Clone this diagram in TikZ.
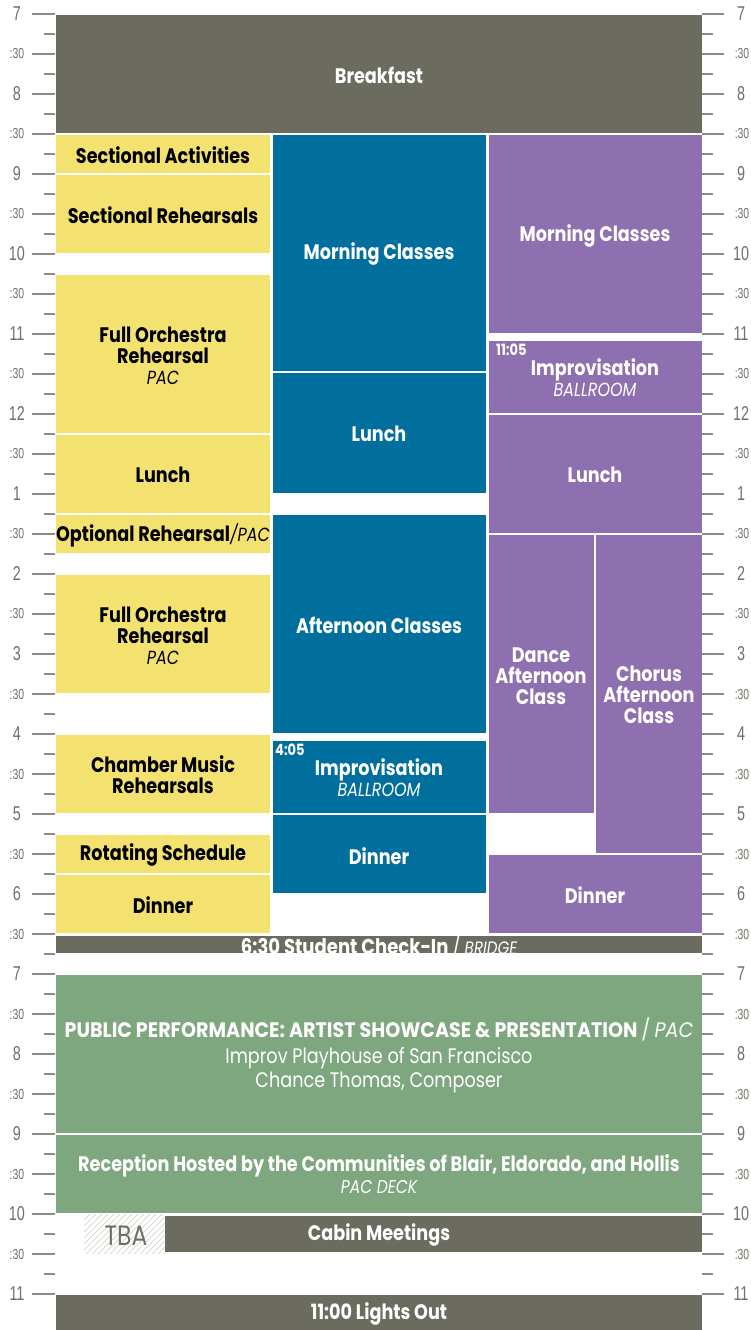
\documentclass[tikz,border=0pt]{standalone}
\usepackage{fontspec}
\setmainfont{Poppins}[FakeStretch=0.84]
\newfontfamily\wideboldfont{Poppins}[FakeStretch=0.91]
\newfontfamily\axfont{Liberation Sans}[FakeStretch=0.72]
\definecolor{cgrey}{RGB}{108,107,95}
\definecolor{cyel}{RGB}{243,225,112}
\definecolor{cblue}{RGB}{0,111,158}
\definecolor{cpurp}{RGB}{142,111,176}
\definecolor{cgreen}{RGB}{127,167,127}
\definecolor{ctick}{RGB}{140,140,130}
\definecolor{caxis}{RGB}{112,112,102}
\definecolor{chatch}{RGB}{212,212,206}
\newcommand\blockrect[5]{\fill[#5] (#1,#2) rectangle (#3,#4);}
\newcommand\subtxt[1]{{\mdseries\itshape\fontsize{19}{19}\selectfont #1}}
\newcommand\roomtxt[1]{{\mdseries\itshape\fontsize{19}{19}\selectfont #1}}
\begin{document}
\begin{tikzpicture}[x=1pt,y=-1pt,
  ttl/.style={font=\bfseries\fontsize{21}{21}\selectfont, align=center, inner sep=0pt},
  dk/.style={ttl, text=black},
  lt/.style={ttl, text=white},
  small/.style={font=\bfseries\fontsize{15.5}{16}\selectfont, text=white, inner sep=0pt, anchor=north west},
  tickl/.style={ctick, line width=1.4pt},
  axh/.style={font=\axfont\fontsize{20}{20}\selectfont, text=caxis, inner sep=0pt},
  axm/.style={font=\axfont\fontsize{14.5}{15}\selectfont, text=caxis, inner sep=0pt}]
\useasboundingbox (0,0) rectangle (751,1330);
\fill[white] (0,0) rectangle (751,1330);
% ---- ticks ----
\foreach \i in {0,...,64}{
  \ifodd\i
    \draw[tickl] (44,14+20*\i) -- (55,14+20*\i);
    \draw[tickl] (702,14+20*\i) -- (713,14+20*\i);
  \else
    \draw[tickl] (32,14+20*\i) -- (55,14+20*\i);
    \draw[tickl] (702,14+20*\i) -- (724,14+20*\i);
  \fi
}
\foreach \lab [count=\k from 0] in {7,8,9,10,11,12,1,2,3,4,5,6,7,8,9,10,11}{
  \node[axh] (hl\k) at (17,14+80*\k) {\lab};
  \node[axh] (hr\k) at (741,14+80*\k) {\lab};
}
\foreach \k in {0,...,15}{
  \node[axm] (ml\k) at (17,54+80*\k) {:30};
  \node[axm] (mr\k) at (742,54+80*\k) {:30};
}
% ---- blocks ----
\blockrect{56}{15}{702}{133}{cgrey}
% left column
\blockrect{56}{135}{270}{173}{cyel}
\blockrect{56}{175}{270}{253}{cyel}
\blockrect{56}{275}{270}{433}{cyel}
\blockrect{56}{435}{270}{513}{cyel}
\blockrect{56}{515}{270}{553}{cyel}
\blockrect{56}{575}{270}{693}{cyel}
\blockrect{56}{735}{270}{813}{cyel}
\blockrect{56}{835}{270}{873}{cyel}
\blockrect{56}{875}{270}{933}{cyel}
% middle column
\blockrect{273}{135}{486}{371}{cblue}
\blockrect{273}{373}{486}{493}{cblue}
\blockrect{273}{515}{486}{733}{cblue}
\blockrect{273}{741}{486}{813}{cblue}
\blockrect{273}{815}{486}{893}{cblue}
% right column
\blockrect{489}{135}{702}{333}{cpurp}
\blockrect{489}{341}{702}{413}{cpurp}
\blockrect{489}{415}{702}{533}{cpurp}
\blockrect{489}{535}{594}{813}{cpurp}
\blockrect{596}{535}{702}{853}{cpurp}
\blockrect{489}{855}{702}{933}{cpurp}
% evening
\blockrect{56}{936}{702}{953}{cgrey}
\blockrect{56}{975}{702}{1133}{cgreen}
\blockrect{56}{1135}{702}{1213}{cgreen}
\blockrect{165}{1216}{702}{1252}{cgrey}
\blockrect{56}{1295}{702}{1330}{cgrey}
% hatch TBA
\begin{scope}
  \clip (84,1214) rectangle (165,1253);
  \foreach \s in {0,6,...,130}{
    \draw[chatch, line width=0.7pt] (44+\s,1254) -- ++(42,-42);
  }
\end{scope}
% ---- labels ----
\node[lt] (breakfast) at (379,75) {Breakfast};
\node[dk] (sa) at (163,155) {Sectional Activities};
\node[dk] (sr) at (163,215) {Sectional Rehearsals};
\node[dk] (for1) at (163,356) {Full Orchestra\\Rehearsal\\\subtxt{PAC}};
\node[dk] (lunchl) at (163,475) {Lunch};
\node[dk] (opt) at (163,535) {Optional Rehearsal\subtxt{/PAC}};
\node[dk] (for2) at (163,636) {Full Orchestra\\Rehearsal\\\subtxt{PAC}};
\node[dk] (cmr) at (163,775) {Chamber Music\\Rehearsals};
\node[dk] (rs) at (163,855) {Rotating Schedule};
\node[dk] (dinnerl) at (163,905) {Dinner};
\node[lt] (mcm) at (379,254) {Morning Classes};
\node[lt] (lunchm) at (379,434) {Lunch};
\node[lt] (acm) at (379,625) {Afternoon Classes};
\node[small] (t405) at (275,744) {4:05};
\node[lt] (impm) at (379,778) {Improvisation\\\roomtxt{BALLROOM}};
\node[lt] (dinnerm) at (379,856) {Dinner};
\node[lt] (mcr) at (595,236) {Morning Classes};
\node[small] (t1105) at (496,344) {11:05};
\node[lt] (impr) at (595,378) {Improvisation\\\roomtxt{BALLROOM}};
\node[lt] (lunchr) at (595,475) {Lunch};
\node[lt] (dance) at (541,676) {Dance\\Afternoon\\Class};
\node[lt] (chorus) at (649,695) {Chorus\\Afternoon\\Class};
\node[lt] (dinnerr) at (595,895) {Dinner};
\begin{scope}
  \clip (56,936) rectangle (702,953);
  \node[lt, anchor=base, font=\bfseries\fontsize{21.5}{22}\selectfont] (checkin) at (379,954) {6:30 Student Check-In {\mdseries /} {\mdseries\itshape\fontsize{18}{18}\selectfont BRIDGE}};
\end{scope}
\node[lt, font=\wideboldfont\bfseries\fontsize{21}{26}\selectfont] (pub) at (379,1029) {PUBLIC PERFORMANCE: ARTIST SHOWCASE \& PRESENTATION {\mdseries /} {\mdseries\itshape PAC}};
\node[lt, font=\fontsize{21}{24.5}\selectfont] (improv) at (379,1070) {Improv Playhouse of San Francisco\\Chance Thomas, Composer};
\node[lt] (recep) at (379,1166) {Reception Hosted by the Communities of Blair, Eldorado, and Hollis};
\node[lt, font=\itshape\fontsize{18.5}{19}\selectfont] (pacdeck) at (379,1187) {PAC DECK};
\node[inner sep=0pt, text=caxis, font=\fontsize{28}{28}\selectfont] (tba) at (126,1236) {TBA};
\node[lt] (cabin) at (379,1235) {Cabin Meetings};
\node[lt] (lights) at (379,1314) {11:00 Lights Out};
\end{tikzpicture}
\end{document}
